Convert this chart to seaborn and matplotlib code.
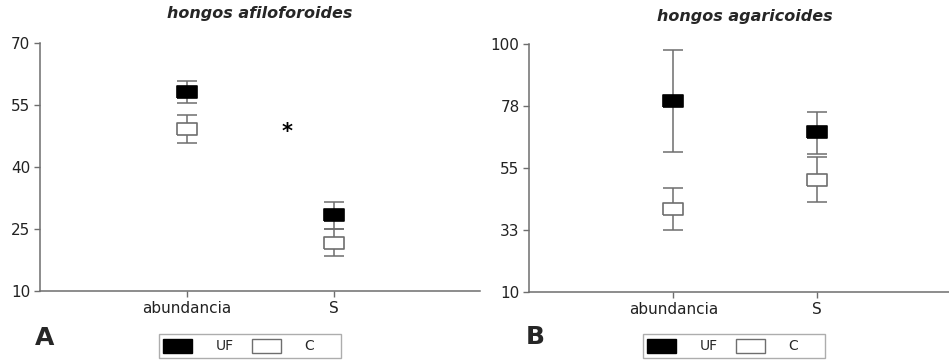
import numpy as np
import matplotlib
matplotlib.use("Agg")
import matplotlib.pyplot as plt
from matplotlib.patches import Patch
import seaborn as sns

cats = ["abundancia", "S"]

# hongos afiloforoides
afilo_uf = [58.2, 28.3]
afilo_uf_lo = [55.5, 25.0]
afilo_uf_hi = [60.9, 31.6]
afilo_c = [49.2, 21.7]
afilo_c_lo = [45.9, 18.4]
afilo_c_hi = [52.6, 25.0]

# hongos agaricoides
agari_uf = [79.5, 68.1]
agari_uf_lo = [61.0, 60.3]
agari_uf_hi = [97.9, 75.4]
agari_c = [40.3, 50.7]
agari_c_lo = [32.6, 42.6]
agari_c_hi = [47.9, 58.9]

afilo_ticks = [10, 25, 40, 55, 70]
agari_ticks = [10, 32.5, 55, 77.5, 100]
agari_ticklabels = ["10", "33", "55", "78", "100"]

sns.set_style("ticks")
plt.rcParams['font.family'] = ['DejaVu Sans']

grey = '#6e6e6e'
box = [(-1, -0.57), (1, -0.57), (1, 0.57), (-1, 0.57), (-1, -0.57)]


def panel(ax, uf, uf_lo, uf_hi, c, c_lo, c_hi):
    x = np.arange(len(cats))
    for m, lo, hi, fc in [(uf, uf_lo, uf_hi, 'black'), (c, c_lo, c_hi, 'white')]:
        m = np.array(m)
        err = [m - np.array(lo), np.array(hi) - m]
        ax.errorbar(x, m, yerr=err, fmt='none', ecolor=grey, elinewidth=1.1,
                    capsize=7.5, capthick=1.1, zorder=2)
        sns.scatterplot(x=x, y=m, ax=ax, marker=box, s=15 ** 2, color=fc,
                        edgecolor=grey if fc == 'white' else 'black',
                        linewidth=1.2, zorder=3, legend=False)
    ax.set_xticks(x)
    ax.set_xticklabels(cats)
    for s in ['top', 'right']:
        ax.spines[s].set_visible(False)
    for s in ['left', 'bottom']:
        ax.spines[s].set_color(grey)
        ax.spines[s].set_linewidth(1.1)
    ax.tick_params(direction='out', length=4, width=1, color=grey,
                   labelsize=11, labelcolor='#222222', pad=3)
    ax.set_xlabel('')
    ax.set_ylabel('')


fig = plt.figure(figsize=(9.49, 3.61), dpi=100)
ax1 = fig.add_axes([40 / 949, 1 - 291 / 361, 440 / 949, 248 / 361])
ax2 = fig.add_axes([529.3 / 949, 1 - 292 / 361, 419.7 / 949, 247.7 / 361])

panel(ax1, afilo_uf, afilo_uf_lo, afilo_uf_hi, afilo_c, afilo_c_lo, afilo_c_hi)
ax1.set_xlim(-1, 1.99)
ax1.set_ylim(10, 70)
ax1.set_yticks(afilo_ticks)
ax1.text(0.68, 48.5, '*', fontsize=15, fontweight='bold', ha='center', va='center', color='black')
ax1.text(0.5, 1.117, 'hongos afiloforoides', transform=ax1.transAxes,
         ha='center', va='center', fontsize=11.5, fontweight='bold', style='italic')

panel(ax2, agari_uf, agari_uf_lo, agari_uf_hi, agari_c, agari_c_lo, agari_c_hi)
ax2.set_xlim(-1.005, 1.924)
ax2.set_ylim(10, 100)
ax2.set_yticks(agari_ticks)
ax2.set_yticklabels(agari_ticklabels)
ax2.text(0.514, 1.114, 'hongos agaricoides', transform=ax2.transAxes,
         ha='center', va='center', fontsize=11.5, fontweight='bold', style='italic')

fig.text(45 / 949, 1 - 338 / 361, 'A', ha='center', va='center', fontsize=18, fontweight='bold')
fig.text(535 / 949, 1 - 337 / 361, 'B', ha='center', va='center', fontsize=18, fontweight='bold')

handles = [Patch(facecolor='black', edgecolor='black', label='UF'),
           Patch(facecolor='white', edgecolor=grey, label='C     ')]
for cx in [250, 734]:
    leg = fig.legend(handles=handles, loc='center', ncol=2,
                     bbox_to_anchor=(cx / 949, 1 - 346 / 361), fontsize=10,
                     frameon=True, fancybox=False, handlelength=2.1, handleheight=1.2,
                     handletextpad=1.7, columnspacing=1.3, borderpad=0.3)
    leg.get_frame().set_edgecolor('#999999')
    leg.get_frame().set_linewidth(1)

fig.savefig('out.png', dpi=100)
